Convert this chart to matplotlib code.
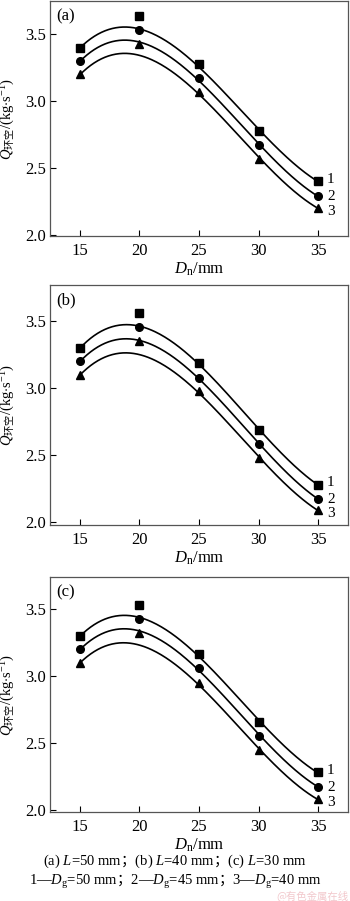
import numpy as np
import matplotlib.pyplot as plt

plt.rcParams['font.family'] = ['Liberation Serif', 'Noto Sans CJK SC']
plt.rcParams['mathtext.fontset'] = 'custom'
plt.rcParams['mathtext.rm'] = 'Liberation Serif'
plt.rcParams['mathtext.it'] = 'Liberation Serif:italic'
plt.rcParams['mathtext.sf'] = 'Noto Sans CJK SC'

# диаметр сопла, мм
D_n = [15, 20, 25, 30, 35]
curve_labels = ['1', '2', '3']

# (a) L=50 mm: точки для Dg = 50, 45, 40 мм
a_dg50 = [3.40, 3.64, 3.28, 2.78, 2.40]
a_dg45 = [3.30, 3.53, 3.17, 2.67, 2.29]
a_dg40 = [3.20, 3.43, 3.07, 2.57, 2.20]
# (a) кривые аппроксимации
a_fit50 = [3.40, 3.53, 3.27, 2.78, 2.40]
a_fit45 = [3.30, 3.43, 3.17, 2.67, 2.29]
a_fit40 = [3.20, 3.33, 3.07, 2.57, 2.20]

# (b) L=40 mm
b_dg50 = [3.30, 3.56, 3.19, 2.69, 2.28]
b_dg45 = [3.20, 3.455, 3.08, 2.585, 2.175]
b_dg40 = [3.10, 3.35, 2.98, 2.48, 2.09]
b_fit50 = [3.30, 3.455, 3.19, 2.69, 2.28]
b_fit45 = [3.20, 3.35, 3.08, 2.585, 2.175]
b_fit40 = [3.10, 3.24, 2.98, 2.48, 2.09]

# (c) L=30 mm
c_dg50 = [3.30, 3.53, 3.165, 2.66, 2.28]
c_dg45 = [3.20, 3.425, 3.06, 2.555, 2.175]
c_dg40 = [3.10, 3.325, 2.95, 2.45, 2.08]
c_fit50 = [3.30, 3.425, 3.165, 2.66, 2.28]
c_fit45 = [3.20, 3.325, 3.06, 2.555, 2.175]
c_fit40 = [3.10, 3.22, 2.95, 2.45, 2.08]

panels = [
    ('(a)', [a_dg50, a_dg45, a_dg40], [a_fit50, a_fit45, a_fit40], (1.99, 3.75), [0.143, 0.738, 0.851, 0.261]),
    ('(b)', [b_dg50, b_dg45, b_dg40], [b_fit50, b_fit45, b_fit40], (1.98, 3.77), [0.143, 0.4173, 0.851, 0.2664]),
    ('(c)', [c_dg50, c_dg45, c_dg40], [c_fit50, c_fit45, c_fit40], (1.985, 3.74), [0.143, 0.0988, 0.851, 0.2608]),
]
markers = ['s', 'o', '^']
label_shift = [0.015, -0.005, -0.025]

fig = plt.figure(figsize=(3.5, 9.01), dpi=100)
x = np.array(D_n, dtype=float)
xs = np.linspace(15, 35, 200)

for tag, series, fits, ylim, rect in panels:
    ax = fig.add_axes(rect)
    for ys, fit, m, lab, dy in zip(series, fits, markers, curve_labels, label_shift):
        ax.plot(x, ys, linestyle='none', marker=m, color='black', markersize=5.5)
        p = np.polyfit(x, fit, 3)
        ax.plot(xs, np.polyval(p, xs), color='black', linewidth=1.2)
        ax.text(35.75, ys[-1] + dy, lab, fontsize=11, ha='left', va='center')
    ax.set_xlim(12.5, 37.5)
    ax.set_ylim(*ylim)
    ax.set_xticks([15, 20, 25, 30, 35])
    ax.set_yticks([2.0, 2.5, 3.0, 3.5])
    ax.yaxis.set_major_formatter(plt.FormatStrFormatter('%.1f'))
    ax.tick_params(direction='in', length=4, width=0.8, labelsize=12, pad=3)
    ax.tick_params(axis='x', pad=5)
    for s in ax.spines.values():
        s.set_linewidth(0.9)
        s.set_color('#555555')
    ax.text(0.02, 0.97, tag, transform=ax.transAxes, fontsize=12, ha='left', va='top')
    ax.set_xlabel(r'$D_\mathrm{n}$/mm', fontsize=12, labelpad=1)
    ax.set_ylabel(r'$Q_{\mathsf{环空}}$/(kg$\cdot$s$^{-1}$)', fontsize=10.5)
    ax.yaxis.set_label_coords(-0.11, 0.5)

fig.text(0.5, 1 - 861 / 901, r'(a) $L$=50 mm$\mathsf{；}$(b) $L$=40 mm$\mathsf{；}$(c) $L$=30 mm',
         fontsize=10.5, ha='center', va='center')
fig.text(0.5, 1 - 882 / 901,
         r'1—$D_\mathrm{g}$=50 mm$\mathsf{；}$2—$D_\mathrm{g}$=45 mm$\mathsf{；}$3—$D_\mathrm{g}$=40 mm',
         fontsize=10.5, ha='center', va='center')
fig.text(0.995, 1 - 896 / 901, '@有色金属在线', fontsize=7.5, ha='right', va='center',
         color='#f2c8cc', family=['Noto Sans CJK SC'])

fig.savefig('out.png', dpi=100)
